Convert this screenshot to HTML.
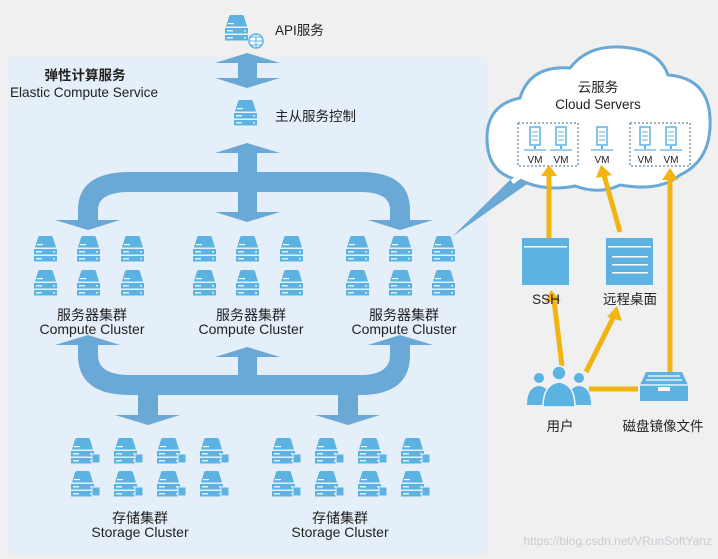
<!DOCTYPE html>
<html><head><meta charset="utf-8"><style>
html,body{margin:0;padding:0;background:#f0f0f0;}
svg{display:block;font-family:"Liberation Sans","Noto Sans CJK SC",sans-serif;}
</style></head><body>
<svg width="718" height="559" viewBox="0 0 718 559" xmlns="http://www.w3.org/2000/svg">
<defs>
<g id="srv">
<path d="M1 11.5 L4 1.5 Q4.5 0 6 0 L17 0 Q18.5 0 19 1.5 L22 11.5 Z" fill="#5cb3e2"/>
<rect x="0" y="13" width="23" height="5.5" fill="#5cb3e2"/>
<rect x="0" y="20" width="23" height="5.5" fill="#5cb3e2"/>
<rect x="3" y="8" width="6" height="1.2" fill="#fff"/>
<rect x="2" y="15.2" width="6" height="1.2" fill="#fff"/>
<rect x="2" y="22.2" width="6" height="1.2" fill="#fff"/>
<rect x="19" y="15.2" width="2" height="1.2" fill="#fff"/>
<rect x="19" y="22.2" width="2" height="1.2" fill="#fff"/>
</g>
<g id="sto">
<use href="#srv"/>
<rect x="21" y="16" width="8" height="9" fill="#5cb3e2" stroke="#e4eff9" stroke-width="1"/>
</g>
<g id="vm">
<rect x="-5" y="0" width="10" height="18" fill="none" stroke="#5cb3e2" stroke-width="1.5"/>
<line x1="-3" y1="5" x2="3" y2="5" stroke="#5cb3e2"/><line x1="-3" y1="9" x2="3" y2="9" stroke="#5cb3e2"/><line x1="-3" y1="13" x2="3" y2="13" stroke="#5cb3e2"/>
<line x1="-11" y1="23" x2="11" y2="23" stroke="#5cb3e2" stroke-width="1.2"/>
<rect x="-1" y="19" width="2" height="3" fill="#5cb3e2"/>
</g>
</defs>
<rect x="7" y="57" width="480" height="497" fill="#e4eff9"/>

<!-- API -->
<use href="#srv" x="225" y="15"/>
<circle cx="256" cy="41" r="7" fill="#fff" stroke="#5cb3e2" stroke-width="1.5"/>
<path d="M249 41h14M256 34v14M251 37h10M251 45h10" stroke="#5cb3e2" stroke-width="1"/>
<text x="275" y="35" font-size="13.5" fill="#222">API服务</text>

<g fill="#6aa9d6">
<path d="M215 63 L247 53 L280 63 L257 63 L257 78 L280 78 L247 88 L215 78 L238 78 L238 63 Z"/>
<path d="M215 153 L247 143 L280 153 L257 153 L257 172 L360 172 Q410 172 410 210 L410 220 L433 220 L400 230 L368 220 L390 220 L390 210 Q390 192 360 192 L257 192 L257 212 L280 212 L247 222 L215 212 L238 212 L238 192 L130 192 Q98 192 98 210 L98 220 L120 220 L88 230 L55 220 L78 220 L78 210 Q78 172 130 172 L238 172 L238 153 Z"/>
<path d="M55 345 L88 335 L120 345 L98 345 L98 355 Q98 375 130 375 L238 375 L238 357 L215 357 L247 347 L280 357 L257 357 L257 375 L360 375 Q390 375 390 355 L390 345 L368 345 L400 335 L433 345 L410 345 L410 355 Q410 395 360 395 L358 395 L358 415 L380 415 L348 425 L315 415 L338 415 L338 395 L158 395 L158 415 L180 415 L148 425 L115 415 L138 415 L138 395 L130 395 Q78 395 78 355 L78 345 Z"/>
</g>

<text x="85" y="80" font-size="13.5" font-weight="bold" fill="#222" text-anchor="middle">弹性计算服务</text>
<text x="84" y="97" font-size="13.6" fill="#222" text-anchor="middle">Elastic Compute Service</text>

<use href="#srv" x="234" y="100"/>
<text x="275" y="121" font-size="13.5" fill="#222">主从服务控制</text>

<g>
<use href="#srv" x="34" y="236"/><use href="#srv" x="77" y="236"/><use href="#srv" x="121" y="236"/>
<use href="#srv" x="34" y="270"/><use href="#srv" x="77" y="270"/><use href="#srv" x="121" y="270"/>
<use href="#srv" x="193" y="236"/><use href="#srv" x="236" y="236"/><use href="#srv" x="280" y="236"/>
<use href="#srv" x="193" y="270"/><use href="#srv" x="236" y="270"/><use href="#srv" x="280" y="270"/>
<use href="#srv" x="346" y="236"/><use href="#srv" x="389" y="236"/><use href="#srv" x="432" y="236"/>
<use href="#srv" x="346" y="270"/><use href="#srv" x="389" y="270"/><use href="#srv" x="432" y="270"/>
</g>
<g font-size="14" fill="#222" text-anchor="middle">
<text x="92" y="320">服务器集群</text><text x="92" y="334">Compute Cluster</text>
<text x="251" y="320">服务器集群</text><text x="251" y="334">Compute Cluster</text>
<text x="404" y="320">服务器集群</text><text x="404" y="334">Compute Cluster</text>
<text x="140" y="523">存储集群</text><text x="140" y="537">Storage Cluster</text>
<text x="340" y="523">存储集群</text><text x="340" y="537">Storage Cluster</text>
</g>

<g>
<use href="#sto" x="71" y="438"/><use href="#sto" x="114" y="438"/><use href="#sto" x="157" y="438"/><use href="#sto" x="200" y="438"/>
<use href="#sto" x="71" y="471"/><use href="#sto" x="114" y="471"/><use href="#sto" x="157" y="471"/><use href="#sto" x="200" y="471"/>
<use href="#sto" x="272" y="438"/><use href="#sto" x="315" y="438"/><use href="#sto" x="358" y="438"/><use href="#sto" x="401" y="438"/>
<use href="#sto" x="272" y="471"/><use href="#sto" x="315" y="471"/><use href="#sto" x="358" y="471"/><use href="#sto" x="401" y="471"/>
</g>

<!-- cloud -->
<path d="M515 175 L453 236 L530 182 Z" fill="#6aa9d6"/>
<path d="M520 180 Q488 175 487 140 Q486 105 520 98 Q530 65 570 68 Q590 42 630 48 Q660 52 668 75 Q708 78 710 118 Q712 160 680 175 Q660 192 620 185 Q600 195 575 186 Q545 192 520 180 Z" fill="#fff" stroke="#6aa9d6" stroke-width="3"/>
<path d="M519 177 L512 182" stroke="#fff" stroke-width="5"/>
<text x="598" y="92" font-size="13.5" fill="#222" text-anchor="middle">云服务</text>
<text x="598" y="109" font-size="13.5" fill="#222" text-anchor="middle">Cloud Servers</text>
<rect x="518" y="123" width="60" height="43" fill="none" stroke="#7a9cb8" stroke-width="1.5" stroke-dasharray="2,2"/>
<rect x="630" y="123" width="60" height="43" fill="none" stroke="#7a9cb8" stroke-width="1.5" stroke-dasharray="2,2"/>
<use href="#vm" x="535" y="127"/><use href="#vm" x="561" y="127"/><use href="#vm" x="602" y="127"/><use href="#vm" x="645" y="127"/><use href="#vm" x="671" y="127"/>
<g font-size="10" fill="#222" text-anchor="middle">
<text x="535" y="163">VM</text><text x="561" y="163">VM</text><text x="602" y="163">VM</text><text x="645" y="163">VM</text><text x="671" y="163">VM</text>
</g>

<g stroke="#f1b411" stroke-width="5" fill="none">
<line x1="549" y1="238" x2="549" y2="175"/>
<line x1="620" y1="232" x2="604" y2="175"/>
<line x1="670" y1="372" x2="670" y2="178"/>
<line x1="562" y1="366" x2="554" y2="300"/>
<line x1="586" y1="372" x2="614" y2="316"/>
<line x1="589" y1="389" x2="638" y2="389"/>
</g>
<g fill="#f1b411">
<path d="M541 176 L549 165 L557 176 Z"/>
<path d="M596 178 L601 165 L612 175 Z"/>
<path d="M662 180 L670 168 L678 180 Z"/>
<path d="M545 302 L551 290 L561 301 Z"/>
<path d="M607 317 L617 306 L622 321 Z"/>
</g>

<rect x="522" y="238" width="47" height="47" fill="#5cb3e2"/>
<rect x="524" y="246" width="43" height="1.5" fill="#fff"/>
<rect x="606" y="238" width="47" height="47" fill="#5cb3e2"/>
<g fill="#fff"><rect x="608" y="246" width="43" height="1.5"/><rect x="612" y="256" width="36" height="1.5"/><rect x="612" y="264" width="36" height="1.5"/><rect x="612" y="272" width="36" height="1.5"/></g>
<text x="546" y="304" font-size="13.5" fill="#222" text-anchor="middle">SSH</text>
<text x="630" y="304" font-size="13.5" fill="#222" text-anchor="middle">远程桌面</text>

<g fill="#5cb3e2">
<circle cx="539" cy="378" r="5"/><path d="M527 405 Q527 387 539 386 Q551 387 551 405 Z"/>
<circle cx="579" cy="378" r="5"/><path d="M567 405 Q567 387 579 386 Q591 387 591 405 Z"/>
<circle cx="559" cy="373" r="7" stroke="#f0f4f8" stroke-width="1.5"/><path d="M543 407 Q543 384 559 382 Q575 384 575 407 Z" stroke="#f0f4f8" stroke-width="1.5"/>
</g>
<text x="560" y="431" font-size="13.5" fill="#222" text-anchor="middle">用户</text>
<path d="M646 372 L682 372 L688 385 L688 401 L640 401 L640 385 Z" fill="#5cb3e2"/>
<g stroke="#fff" stroke-width="1.2"><line x1="648" y1="376" x2="680" y2="376"/><line x1="646" y1="380" x2="682" y2="380"/><line x1="640" y1="385" x2="688" y2="385"/></g>
<rect x="658" y="387" width="12" height="4" fill="#fff"/>
<text x="663" y="431" font-size="13.5" fill="#222" text-anchor="middle">磁盘镜像文件</text>

<text x="712" y="545" font-size="12" fill="#c8ccd2" text-anchor="end">https://blog.csdn.net/VRunSoftYanz</text>
</svg>
</body></html>
